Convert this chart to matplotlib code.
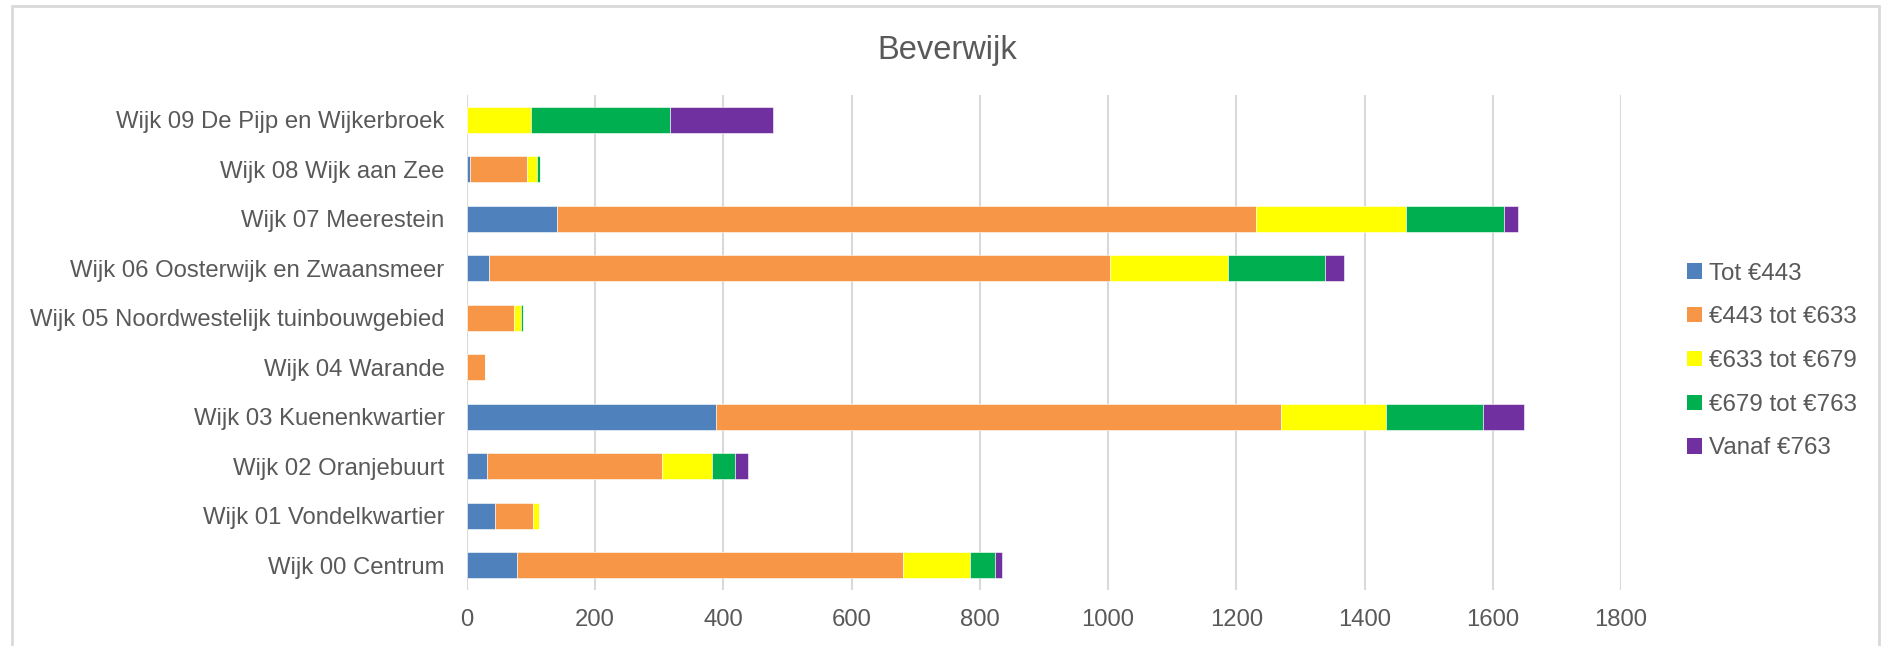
import matplotlib
matplotlib.use("Agg")
import matplotlib.pyplot as plt
from matplotlib.patches import Rectangle, Patch
import numpy as np

plt.rcParams['font.family'] = ['Liberation Sans', 'DejaVu Sans']

categories = [
    "Wijk 00 Centrum",
    "Wijk 01 Vondelkwartier",
    "Wijk 02 Oranjebuurt",
    "Wijk 03 Kuenenkwartier",
    "Wijk 04 Warande",
    "Wijk 05 Noordwestelijk tuinbouwgebied",
    "Wijk 06 Oosterwijk en Zwaansmeer",
    "Wijk 07 Meerestein",
    "Wijk 08 Wijk aan Zee",
    "Wijk 09 De Pijp en Wijkerbroek",
]
series_names = ["Tot €443", "€443 tot €633", "€633 tot €679", "€679 tot €763", "Vanaf €763"]
tot_443 =      [79, 44, 31, 389, 0, 0, 35, 141, 5, 0]
t443_633 =     [601, 59, 274, 880, 28, 74, 968, 1090, 89, 0]
t633_679 =     [104, 9, 78, 165, 0, 10, 184, 233, 15, 100]
t679_763 =     [39, 0, 36, 151, 0, 3, 152, 153, 5, 217]
vanaf_763 =    [12, 1, 20, 64, 0, 0, 29, 23, 0, 161]
colors = ["#4F81BD", "#F79646", "#FFFF00", "#00B050", "#7030A0"]
x_ticks = [0, 200, 400, 600, 800, 1000, 1200, 1400, 1600, 1800]

series = [tot_443, t443_633, t633_679, t679_763, vanaf_763]

fig = plt.figure(figsize=(18.86, 6.46), dpi=100)
ax = fig.add_axes([466.8 / 1886, 1 - 590 / 646, (1621 - 466.8) / 1886, (590 - 95) / 646])

y = np.arange(len(categories))
left = np.zeros(len(categories))
for vals, col, name in zip(series, colors, series_names):
    v = np.array(vals, dtype=float)
    ax.barh(y, v, left=left, height=0.53, color=col, label=name, zorder=3,
            edgecolor="white", linewidth=0.4)
    left += v

ax.set_xlim(0, 1800)
ax.set_ylim(-0.5, len(categories) - 0.5)
ax.set_xticks(x_ticks)
ax.set_xticklabels([str(t) for t in x_ticks])
ax.set_yticks(y)
ax.set_yticklabels(categories)
ax.tick_params(axis='both', length=0, labelsize=17.2, labelcolor="#595959")
ax.tick_params(axis='y', pad=16)
ax.tick_params(axis='x', pad=14)
ax.grid(axis='x', color="#d9d9d9", linewidth=1.5, zorder=0)
for s in ax.spines.values():
    s.set_visible(False)

fig.text(947 / 1886, 1 - 50 / 646, "Beverwijk", ha="center", va="center",
         fontsize=23.5, color="#595959")

handles = [Patch(facecolor=c, edgecolor="none") for c in colors]
fig.legend(handles, series_names, loc="center left",
           bbox_to_anchor=(1687 / 1886, 1 - 361 / 646), frameon=False,
           fontsize=17.4, labelcolor="#595959", handlelength=0.6, handleheight=0.6,
           handletextpad=0.3, labelspacing=0.9, borderpad=0, borderaxespad=0)

fig.add_artist(Rectangle((12 / 1886, -0.02), (1879 - 12) / 1886, 1 - 6 / 646 + 0.02,
                         transform=fig.transFigure, fill=False, edgecolor="#d9d9d9",
                         linewidth=2))

fig.savefig("out.png", dpi=100)
